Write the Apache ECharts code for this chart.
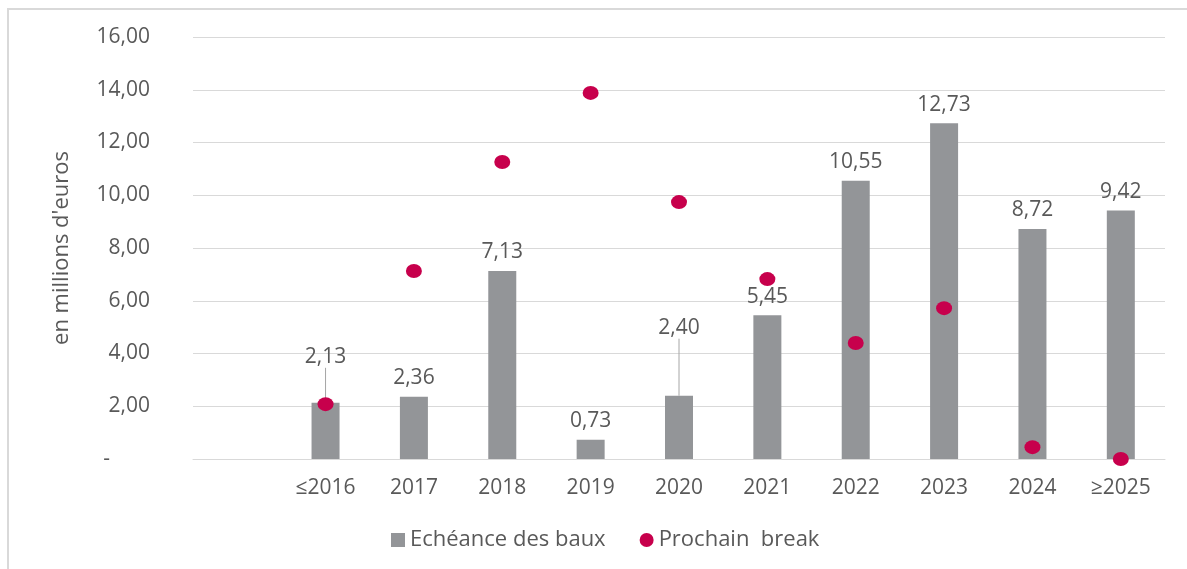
<!DOCTYPE html>
<html>
<head>
<meta charset="utf-8">
<script src="https://cdn.jsdelivr.net/npm/echarts@6/dist/echarts.min.js"></script>
<style>
    html, body { margin: 0; padding: 0; background: #ffffff; }
    #chart { width: 1187px; height: 569px; }
</style>
</head>
<body>
<div id="chart"></div>
<script>
// Data (first column is an empty category)
const categories = ['', '≤2016', '2017', '2018', '2019', '2020', '2021', '2022', '2023', '2024', '≥2025'];
const echeanceValues = [null, 2.13, 2.36, 7.13, 0.73, 2.40, 5.45, 10.55, 12.73, 8.72, 9.42];
const breakValues = [null, 2.08, 7.13, 11.26, 13.88, 9.74, 6.82, 4.40, 5.72, 0.45, 0.00];
const yTicks = [0, 2, 4, 6, 8, 10, 12, 14, 16];

// labels that are pushed up with a leader line (dataIndex -> dy)
const liftedLabels = { 1: -27, 5: -49 };

const textColor = '#595959';
const gridColor = '#d9d9d9';
const font = '"Open Sans", sans-serif';

document.addEventListener('DOMContentLoaded', function() {
    initializeChart();
});

function frNumber(v) {
    return v.toFixed(2).replace('.', ',');
}

function initializeChart() {
    const chartDom = document.getElementById('chart');
    const myChart = echarts.init(chartDom);

    const barData = echeanceValues.map(function(v, i) {
        if (liftedLabels[i] !== undefined) {
            return { value: v, labelLine: { show: true } };
        }
        return v;
    });

    const option = {
        animation: false,
        textStyle: { fontFamily: font },
        graphic: [{
            type: 'rect',
            shape: { x: 8, y: 9, width: 1300, height: 700 },
            style: { fill: 'none', stroke: gridColor, lineWidth: 2 },
            silent: true
        }],
        grid: {
            left: 193,
            right: 22,
            top: 37,
            bottom: 110
        },
        legend: {
            left: 386,
            top: 524,
            itemWidth: 14,
            itemHeight: 14,
            itemGap: 34,
            textStyle: { color: textColor, fontSize: 22, fontFamily: font },
            data: [
                { name: 'Echéance des baux', icon: 'rect' },
                { name: 'Prochain  break', icon: 'circle' }
            ]
        },
        xAxis: {
            type: 'category',
            data: categories,
            axisLine: { lineStyle: { color: gridColor, width: 1 } },
            axisTick: { show: false },
            axisLabel: {
                color: textColor,
                fontSize: 21,
                fontFamily: font,
                margin: 19
            }
        },
        yAxis: {
            type: 'value',
            min: yTicks[0],
            max: yTicks[yTicks.length - 1],
            interval: 2,
            name: "en millions d'euros",
            nameLocation: 'middle',
            nameGap: 120,
            nameTextStyle: { color: textColor, fontSize: 22, fontFamily: font },
            axisLine: { show: false },
            axisTick: { show: false },
            splitLine: { lineStyle: { color: gridColor, width: 1 } },
            axisLabel: {
                color: textColor,
                fontSize: 21,
                fontFamily: font,
                margin: 43,
                formatter: function(v) {
                    return v === 0 ? '{z|-}' : frNumber(v);
                },
                rich: {
                    z: { color: textColor, fontSize: 21, fontFamily: font, padding: [0, 40, 0, 0] }
                }
            }
        },
        series: [
            {
                name: 'Echéance des baux',
                type: 'bar',
                data: barData,
                barWidth: 28,
                itemStyle: { color: '#939598' },
                label: {
                    show: true,
                    position: 'top',
                    distance: 8,
                    color: textColor,
                    fontSize: 21,
                    fontFamily: font,
                    formatter: function(p) {
                        return frNumber(p.value);
                    }
                },
                labelLine: {
                    show: false,
                    lineStyle: { color: '#a6a6a6', width: 1 }
                },
                labelLayout: function(params) {
                    const dy = liftedLabels[params.dataIndex];
                    if (dy !== undefined) {
                        return { dy: dy };
                    }
                    return {};
                },
                z: 2
            },
            {
                name: 'Prochain  break',
                type: 'scatter',
                data: breakValues,
                symbol: 'circle',
                symbolSize: [16, 14],
                itemStyle: { color: '#c7004c', opacity: 1 },
                z: 3
            }
        ]
    };

    myChart.setOption(option);
}
</script>
</body>
</html>
